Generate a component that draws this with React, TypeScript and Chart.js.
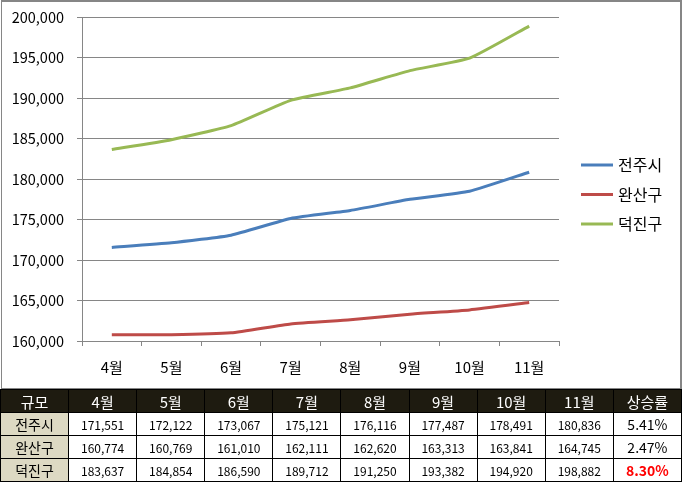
import React, { useEffect, useRef } from "react";
import { Chart, registerables } from "chart.js";

Chart.register(...registerables);

const months = ["4월", "5월", "6월", "7월", "8월", "9월", "10월", "11월"];
const regions = ["전주시", "완산구", "덕진구"];
const jeonju = [171551, 172122, 173067, 175121, 176116, 177487, 178491, 180836];
const wansan = [160774, 160769, 161010, 162111, 162620, 163313, 163841, 164745];
const deokjin = [183637, 184854, 186590, 189712, 191250, 193382, 194920, 198882];
const riseRates = ["5.41%", "2.47%", "8.30%"];
const colors = ["#4a7ebb", "#be4b48", "#98b954"];
const yMin = 160000;
const yMax = 200000;
const yStep = 5000;

const FONT = '"Noto Sans CJK KR", "Noto Sans", sans-serif';

const sideLegend = {
  id: "sideLegend",
  afterDraw(chart: any) {
    const ctx = chart.ctx;
    const area = chart.chartArea;
    const x0 = area.right + 22;
    const startY = area.top + 148;
    chart.data.datasets.forEach((ds: any, i: number) => {
      const y = startY + i * 29.5;
      ctx.save();
      ctx.strokeStyle = ds.borderColor;
      ctx.lineWidth = 3;
      ctx.beginPath();
      ctx.moveTo(x0, y);
      ctx.lineTo(x0 + 32, y);
      ctx.stroke();
      ctx.fillStyle = "#000";
      ctx.font = "16px " + FONT;
      ctx.textBaseline = "middle";
      ctx.textAlign = "left";
      ctx.fillText(ds.label, x0 + 37, y);
      ctx.restore();
    });
  },
};

export default function App() {
  const ref = useRef<HTMLCanvasElement | null>(null);

  useEffect(() => {
    document.body.style.margin = "0";
    if (!ref.current) return;
    const series = [jeonju, wansan, deokjin];
    const chart = new Chart(ref.current, {
      type: "line",
      data: {
        labels: months,
        datasets: regions.map((r, i) => ({
          label: r,
          data: series[i],
          borderColor: colors[i],
          backgroundColor: colors[i],
          borderWidth: 3,
          pointRadius: 0,
          tension: 0.15,
        })),
      },
      options: {
        animation: false,
        responsive: false,
        layout: { padding: { left: 0, top: 17, right: 123, bottom: 0 } },
        plugins: { legend: { display: false }, tooltip: { enabled: false } },
        scales: {
          x: {
            offset: true,
            afterFit: (s: any) => {
              s.height = 49;
            },
            grid: {
              offset: true,
              drawOnChartArea: false,
              tickLength: 5,
              color: "#868686",
            },
            border: { color: "#868686" },
            ticks: { color: "#000", font: { family: FONT, size: 15 }, padding: 12 },
          },
          y: {
            min: yMin,
            max: yMax,
            afterFit: (s: any) => {
              s.width = 82;
              s.paddingTop = 0;
              s.paddingBottom = 0;
            },
            grid: { color: "#868686", tickLength: 5 },
            border: { color: "#868686" },
            ticks: {
              stepSize: yStep,
              padding: 13,
              color: "#000",
              font: { family: FONT, size: 14.5 },
              callback: (v: any) => Number(v).toLocaleString("en-US"),
            },
          },
        },
      },
      plugins: [sideLegend],
    });
    return () => chart.destroy();
  }, []);

  const series = [jeonju, wansan, deokjin];
  const cellBase: React.CSSProperties = {
    border: "1px solid #000",
    textAlign: "center",
    padding: 0,
    height: 22,
    fontFamily: FONT,
  };

  return (
    <div style={{ position: "absolute", left: 0, top: 0, width: 682, height: 482, background: "#fff" }}>
      <canvas ref={ref} width={682} height={390} style={{ display: "block", position: "absolute", left: 0, top: 0 }} />
      <div
        style={{
          position: "absolute",
          left: 1,
          top: 0,
          width: 681,
          height: 390,
          boxSizing: "border-box",
          border: "2px solid #868686",
          borderLeftWidth: 1,
          pointerEvents: "none",
        }}
      />
      <table
        style={{
          position: "absolute",
          left: 0,
          top: 389,
          width: 682,
          borderCollapse: "collapse",
          tableLayout: "fixed",
        }}
      >
        <tbody>
          <tr style={{ background: "#1e1b10", color: "#fff" }}>
            <td style={{ ...cellBase, fontSize: 15 }}>규모</td>
            {months.map((m) => (
              <td key={m} style={{ ...cellBase, fontSize: 15 }}>
                {m}
              </td>
            ))}
            <td style={{ ...cellBase, fontSize: 15 }}>상승률</td>
          </tr>
          {regions.map((r, i) => (
            <tr key={r}>
              <td style={{ ...cellBase, background: "#ddd9c3", fontSize: 14 }}>{r}</td>
              {series[i].map((v, j) => (
                <td key={j} style={{ ...cellBase, fontSize: 12 }}>
                  {v.toLocaleString("en-US")}
                </td>
              ))}
              <td
                style={{
                  ...cellBase,
                  fontSize: 14,
                  color: i === 2 ? "#ff0000" : "#000",
                  fontWeight: i === 2 ? "bold" : "normal",
                }}
              >
                {riseRates[i]}
              </td>
            </tr>
          ))}
        </tbody>
      </table>
    </div>
  );
}
